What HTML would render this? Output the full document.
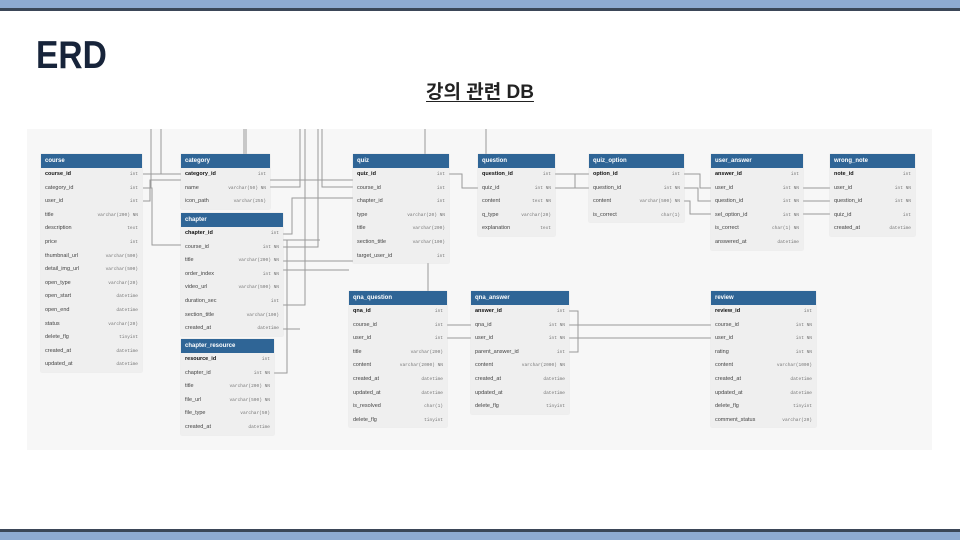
<!DOCTYPE html>
<html><head><meta charset="utf-8">
<style>
*{margin:0;padding:0;box-sizing:border-box}
body{width:960px;height:540px;background:#fff;position:relative;overflow:hidden;font-family:"Liberation Sans","Noto Sans CJK KR",sans-serif}
.bar1{position:absolute;left:0;top:0;width:960px;height:8px;background:#8eaad2}
.bar2{position:absolute;left:0;top:8px;width:960px;height:3px;background:#3b4658}
.bar3{position:absolute;left:0;top:529px;width:960px;height:3px;background:#3b4658}
.bar4{position:absolute;left:0;top:532px;width:960px;height:8px;background:#8eaad2}
h1{position:absolute;left:36px;top:34px;font-size:39px;font-weight:bold;color:#17243a;transform:scaleX(0.86);transform-origin:left top}
h2{position:absolute;left:0;width:960px;top:77px;text-align:center;font-size:19px;font-weight:bold;color:#222;}
h2 span{text-decoration:underline;text-underline-offset:3px}
.panel{position:absolute;left:27px;top:129px;width:905px;height:321px;background:#f7f7f7}
svg{position:absolute;left:0;top:0}
.t{position:absolute;background:#efefef;box-shadow:0 0 1px #ccc}
.t .h{background:#2f6596;color:#fff;font-size:6px;font-weight:bold;height:14px;line-height:14px;padding-left:4px}
.t .r{height:13.6px;line-height:13.6px;font-size:5.5px;color:#444;padding:0 4px;display:flex;justify-content:space-between}
.t .r b{color:#111}
.t .r i{font-style:normal;font-family:"Liberation Mono",monospace;font-size:4.5px;color:#777}
</style></head><body>
<div class="bar1"></div><div class="bar2"></div><div class="bar3"></div><div class="bar4"></div>
<h1>ERD</h1>
<h2><span>강의 관련 DB</span></h2>
<div class="panel"></div>
<svg width="960" height="540" fill="none" stroke="#9a9a9a" stroke-width="1">
<path d="M151 129V188H143M161 129V174M244 129V154M246 129V154M305 129V305H271M318 129V247H283M322 129V187H353M486 129V154M425 129V154"/>
<path d="M143 174H181M143 201H150V180H181M148 188H152V245H181M270 180H353M270 187H300V129M283 234H292V198H353M283 240H320M283 261H353M283 329H300M274 373H287V240H283"/>
<path d="M449 174H462V188H478M555 174H575V188H589M555 188H589M555 174H592M684 174H700V188H711M684 188H698V201H711M684 201H690V214H711M803 188H830M803 201H830M803 214H830"/>
<path d="M447 325H460V325H471M447 338H471M569 311H578V352H569M569 338H711M569 325H711M260 262V270H349M428 262V291"/>
</svg>
<div id="d"></div>
<script>
const T=[
["course",41,154,101,[["course_id","int",1],["category_id","int"],["user_id","int"],["title","varchar(200) NN"],["description","text"],["price","int"],["thumbnail_url","varchar(500)"],["detail_img_url","varchar(500)"],["open_type","varchar(20)"],["open_start","datetime"],["open_end","datetime"],["status","varchar(20)"],["delete_flg","tinyint"],["created_at","datetime"],["updated_at","datetime"]]],
["category",181,154,89,[["category_id","int",1],["name","varchar(50) NN"],["icon_path","varchar(255)"]]],
["chapter",181,213,102,[["chapter_id","int",1],["course_id","int NN"],["title","varchar(200) NN"],["order_index","int NN"],["video_url","varchar(500) NN"],["duration_sec","int"],["section_title","varchar(100)"],["created_at","datetime"]]],
["chapter_resource",181,339,93,[["resource_id","int",1],["chapter_id","int NN"],["title","varchar(200) NN"],["file_url","varchar(500) NN"],["file_type","varchar(50)"],["created_at","datetime"]]],
["quiz",353,154,96,[["quiz_id","int",1],["course_id","int"],["chapter_id","int"],["type","varchar(20) NN"],["title","varchar(200)"],["section_title","varchar(100)"],["target_user_id","int"]]],
["question",478,154,77,[["question_id","int",1],["quiz_id","int NN"],["content","text NN"],["q_type","varchar(20)"],["explanation","text"]]],
["quiz_option",589,154,95,[["option_id","int",1],["question_id","int NN"],["content","varchar(500) NN"],["is_correct","char(1)"]]],
["user_answer",711,154,92,[["answer_id","int",1],["user_id","int NN"],["question_id","int NN"],["sel_option_id","int NN"],["is_correct","char(1) NN"],["answered_at","datetime"]]],
["wrong_note",830,154,85,[["note_id","int",1],["user_id","int NN"],["question_id","int NN"],["quiz_id","int"],["created_at","datetime"]]],
["qna_question",349,291,98,[["qna_id","int",1],["course_id","int"],["user_id","int"],["title","varchar(200)"],["content","varchar(2000) NN"],["created_at","datetime"],["updated_at","datetime"],["is_resolved","char(1)"],["delete_flg","tinyint"]]],
["qna_answer",471,291,98,[["answer_id","int",1],["qna_id","int NN"],["user_id","int NN"],["parent_answer_id","int"],["content","varchar(2000) NN"],["created_at","datetime"],["updated_at","datetime"],["delete_flg","tinyint"]]],
["review",711,291,105,[["review_id","int",1],["course_id","int NN"],["user_id","int NN"],["rating","int NN"],["content","varchar(1000)"],["created_at","datetime"],["updated_at","datetime"],["delete_flg","tinyint"],["comment_status","varchar(20)"]]]
];
let h="";
for(const [n,x,y,w,rows] of T){
h+=`<div class="t" style="left:${x}px;top:${y}px;width:${w}px"><div class="h">${n}</div>`;
for(const [c,ty,pk] of rows){h+=`<div class="r">${pk?`<b>${c}</b>`:c}<i>${ty}</i></div>`;}
h+=`</div>`;}
document.getElementById("d").innerHTML=h;
</script>
</body></html>
